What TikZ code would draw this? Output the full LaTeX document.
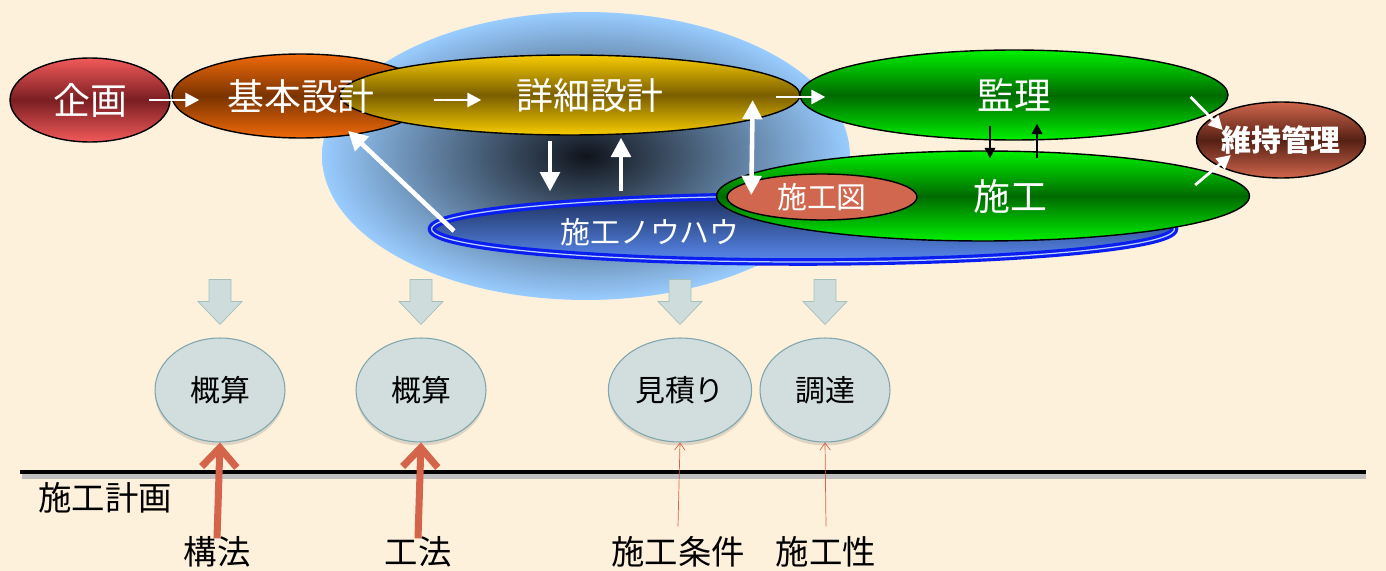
\documentclass[tikz,border=0pt]{standalone}
\usepackage{fontspec}
\newfontfamily\jp{Noto Sans CJK JP}
\usetikzlibrary{calc,shadows,arrows.meta,shapes.geometric}
\definecolor{bgcol}{HTML}{FDF1DC}
\definecolor{skyblue}{HTML}{99CCFF}
\definecolor{cloudcore}{HTML}{10141C}
\definecolor{kikakuL}{HTML}{F25A5A}
\definecolor{kikakuD}{HTML}{7A1E22}
\definecolor{kihonL}{HTML}{F06A0A}
\definecolor{kihonD}{HTML}{7A3300}
\definecolor{shosaiL}{HTML}{F7CC00}
\definecolor{shosaiD}{HTML}{7A5E00}
\definecolor{greenL}{HTML}{00F000}
\definecolor{greenD}{HTML}{006A00}
\definecolor{ijiL}{HTML}{D0664C}
\definecolor{ijiD}{HTML}{552014}
\definecolor{nhTop}{HTML}{1C2F5A}
\definecolor{nhBot}{HTML}{5A8AF0}
\definecolor{nhRing}{HTML}{0A1EF0}
\definecolor{sekozuC}{HTML}{D2674F}
\definecolor{circC}{HTML}{D2DEDE}
\definecolor{circB}{HTML}{7FA5AD}
\definecolor{barrowC}{HTML}{CFDCDC}
\definecolor{barrowB}{HTML}{A5BFBF}
\definecolor{redC}{HTML}{D4654A}
\tikzset{every path/.style={semithick}}
\tikzset{
  phase/.style={ellipse, draw=black, thick, inner sep=0pt, text=white,
    font=\jp\fontsize{21}{25}\selectfont},
  warrow/.style={white, line width=1.6pt, -{Triangle[length=8pt,width=8pt]}},
  wbig/.style={white, line width=2.6pt, -{Triangle[length=11pt,width=11pt]}},
  barrow/.style={black, line width=1.2pt, -{Triangle[length=6pt,width=6pt]}},
  estim/.style={ellipse, draw=circB, fill=circC, minimum width=2.6cm, minimum height=2.08cm,
    drop shadow={shadow xshift=0pt, shadow yshift=-2pt, opacity=0.25},
    font=\jp\fontsize{17}{20}\selectfont},
  factor/.style={inner sep=1pt, font=\jp\fontsize{19}{23}\selectfont},
}

\begin{document}
\begin{tikzpicture}[x=0.02cm, y=-0.02cm]
    \fill[bgcol] (0,0) rectangle (1386,571);
    \useasboundingbox (0,0) rectangle (1386,571);

    % blue cloud and know-how ring
    \node[ellipse, minimum width=10.56cm, minimum height=5.76cm, inner color=cloudcore, outer color=skyblue] (cloud) at (586,156) {};
    \node[ellipse, draw=nhRing, line width=1.8pt, double=nhBot!40!white, double distance=0.7pt,
      top color=nhTop, bottom color=nhBot, minimum width=14.86cm, minimum height=1.32cm] (nouhau) at (803,229) {};
    \node[text=white, font=\jp\fontsize{17}{20}\selectfont] (nouhau-t) at (650,232) {施工ノウハウ};

    % phases
    \node[phase, top color=greenL, bottom color=greenL, middle color=greenD, minimum width=10.66cm, minimum height=1.8cm] (seko) at (983,196) {\hspace*{1.1cm}施工};
    \node[ellipse, draw=black, thick, fill=sekozuC, text=white, inner sep=0pt, minimum width=3.8cm, minimum height=0.92cm,
      font=\jp\fontsize{17}{20}\selectfont] (sekozu) at (822,197) {施工図};
    \node[phase, top color=kikakuL, bottom color=kikakuL, middle color=kikakuD, minimum width=3.2cm, minimum height=1.68cm] (kikaku) at (90,100) {企画};
    \node[phase, top color=kihonL, bottom color=kihonL, middle color=kihonD, minimum width=5.16cm, minimum height=1.68cm] (kihon) at (301,96) {};
    \node[phase, top color=shosaiL, bottom color=shosaiL, middle color=shosaiD, minimum width=9.2cm, minimum height=1.6cm] (shosai) at (570,95) {\hspace*{0.8cm}詳細設計};
    \node[phase, draw=none, shade=none, fill=none] (kihon-t) at (kihon.center) {基本設計};
    \node[phase, top color=greenL, bottom color=greenL, middle color=greenD, minimum width=8.56cm, minimum height=1.8cm] (kanri) at (1014,95) {監理};
    \node[phase, top color=ijiL, bottom color=ijiL, middle color=ijiD, minimum width=3.06cm, minimum height=1.52cm,
      font=\jp\bfseries\fontsize{17}{20}\selectfont] (iji) at (1281,140) {維持管理};

    % flow arrows
    \draw[warrow] ($(kikaku.east)+(-22,0)$) -- ($(kihon.west)+(28,4)$);
    \draw[warrow] ($(kihon.east)+(3,4)$) -- ($(shosai.west)+(142,5)$);
    \draw[warrow] ($(shosai.east)+(-25,2)$) -- ($(kanri.west)+(26,2)$);
    \draw[wbig] ($(shosai.south)+(-20,5)$) -- ($(nouhau.north)+(-253,-3)$);
    \draw[wbig] ($(nouhau.north)+(-182,-3)$) -- ($(shosai.south)+(51,2)$);
    \draw[wbig] ($(nouhau.west)+(24,2)$) -- ($(kihon.south)+(47,-8)$);
    \draw[wbig, {Triangle[length=11pt,width=11pt]}-{Triangle[length=11pt,width=11pt]}] ($(shosai.east)+(-48,5)$) -- ($(sekozu.west)+(25,-2)$);
    \draw[barrow] ($(kanri.south)+(-24,-15)$) -- ($(seko.north)+(7,8)$);
    \draw[barrow] ($(seko.north)+(54,8)$) -- ($(kanri.south)+(23,-17)$);
    \draw[warrow] ($(kanri.east)+(-38,2)$) -- ($(iji.west)+(27,-10)$);
    \draw[warrow] ($(seko.east)+(-55,-11)$) -- ($(iji.west)+(35,15)$);

    % estimates
    \node[estim] (gaisan1) at (220,390) {概算};
    \node[estim] (gaisan2) at (421,390) {概算};
    \node[estim] (mitsumori) at (680,390) {見積り};
    \node[estim] (chotatsu) at (825,390) {調達};

    \foreach \n in {gaisan1,gaisan2,mitsumori,chotatsu}
      \draw[fill=barrowC, draw=barrowB, thin]
        ($(\n.north)+(-11,-58)$) -- ($(\n.north)+(11,-58)$) -- ($(\n.north)+(11,-36)$)
        -- ($(\n.north)+(22,-36)$) -- ($(\n.north)+(0,-13)$) -- ($(\n.north)+(-22,-36)$)
        -- ($(\n.north)+(-11,-36)$) -- cycle;

    % construction planning line
    \coordinate (lineL) at (20,472);
    \coordinate (lineR) at (1366,472);
    \draw[black!25, line width=3pt] ($(lineL)+(2,4)$) -- ($(lineR)+(0,4)$);
    \draw[black, line width=1.8pt] (lineL) -- (lineR);
    \node[factor] (sekokeikaku) at (105,498) {施工計画};

    \node[factor] (kouhou) at (217,552) {構法};
    \node[factor] (kouhou2) at (418,552) {工法};
    \node[factor] (jouken) at (678,552) {施工条件};
    \node[factor] (sekosei) at (826,552) {施工性};

    \draw[redC, line width=4pt, -{Straight Barb[length=11pt,width=20pt]}] ($(kouhou.north)+(0,4)$) -- (gaisan1.south);
    \draw[redC, line width=4pt, -{Straight Barb[length=11pt,width=20pt]}] ($(kouhou2.north)+(0,4)$) -- (gaisan2.south);
    \draw[redC, thin, -{Straight Barb[length=4pt,width=6pt]}] ($(jouken.north)+(0,-8)$) -- (mitsumori.south);
    \draw[redC, thin, -{Straight Barb[length=4pt,width=6pt]}] ($(sekosei.north)+(0,-8)$) -- (chotatsu.south);
\end{tikzpicture}
\end{document}
